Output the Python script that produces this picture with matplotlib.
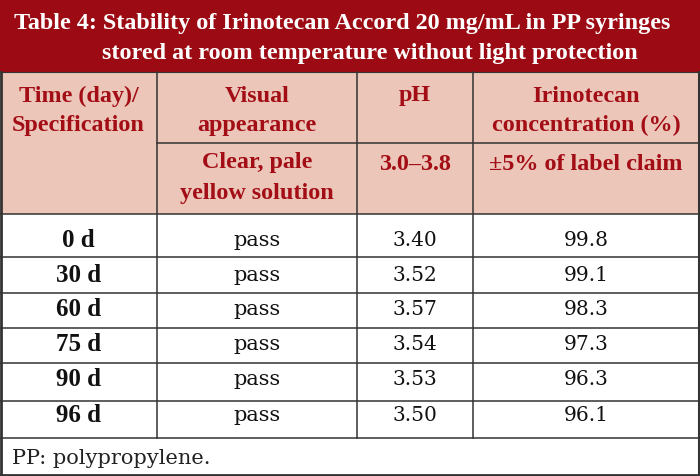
import matplotlib.pyplot as plt
from matplotlib.patches import Rectangle

plt.rcParams['font.family'] = ['Liberation Serif', 'DejaVu Serif']

# table content
title1 = "Table 4: Stability of Irinotecan Accord 20 mg/mL in PP syringes"
title2 = "stored at room temperature without light protection"
head1 = [["Time (day)/", "Specification"], ["Visual", "appearance"], ["pH"],
         ["Irinotecan", "concentration (%)"]]
head2 = [["Clear, pale", "yellow solution"], ["3.0\u20133.8"], ["\u00b15% of label claim"]]
days = ["0 d", "30 d", "60 d", "75 d", "90 d", "96 d"]
visual = ["pass", "pass", "pass", "pass", "pass", "pass"]
ph = ["3.40", "3.52", "3.57", "3.54", "3.53", "3.50"]
conc = ["99.8", "99.1", "98.3", "97.3", "96.3", "96.1"]
footnote = "PP: polypropylene."

red = '#9c0b13'
pink = '#ecc6b8'
hred = '#a30d16'
line = '#333333'
body_font = ['DejaVu Serif']

col_x = [0, 157, 357, 473, 699]
row_y = [215, 258, 294, 329, 364, 402, 439]
text_y = [241, 276, 310, 345, 380, 416]

fig = plt.figure(figsize=(7, 4.77), dpi=100)
ax = fig.add_axes([0, 0, 1, 1])
ax.set_xlim(0, 700)
ax.set_ylim(477, 0)
ax.axis('off')

# background blocks
ax.add_patch(Rectangle((0, 0), 700, 73, color=red, lw=0))
ax.add_patch(Rectangle((0, 73), 700, 142, color=pink, lw=0))

ax.text(14, 23, title1, color='white', fontsize=17.4, fontweight='bold', va='center', ha='left')
ax.text(102, 53, title2, color='white', fontsize=17.4, fontweight='bold', va='center', ha='left')

# header texts
centers = [(col_x[i] + col_x[i + 1]) / 2 for i in range(4)]
for i, lines in enumerate(head1):
    for j, t in enumerate(lines):
        ax.text(centers[i], 96 + j * 29, t, color=hred, fontsize=17.4, fontweight='bold',
                ha='center', va='center')
for i, lines in enumerate(head2):
    if len(lines) == 2:
        ys = [163, 194]
    else:
        ys = [165]
    for j, t in enumerate(lines):
        ax.text(centers[i + 1], ys[j], t, color=hred, fontsize=17.4, fontweight='bold',
                ha='center', va='center')

# body
for k in range(len(days)):
    y = text_y[k]
    ax.text(centers[0], y, days[k], fontsize=18, fontweight='bold', ha='center', va='center', color='#111111')
    ax.text(centers[1], y, visual[k], fontsize=15, family=body_font, ha='center', va='center', color='#111111')
    ax.text(centers[2], y, ph[k], fontsize=14.5, family=body_font, ha='center', va='center', color='#111111')
    ax.text(centers[3], y, conc[k], fontsize=14.5, family=body_font, ha='center', va='center', color='#111111')

ax.text(12, 459, footnote, fontsize=15, family=body_font, ha='left', va='center', color='#222222')

# grid lines
ax.plot([col_x[1], 700], [144, 144], color=line, lw=1.1)
for y in row_y:
    ax.plot([0, 700], [y, y], color=line, lw=1.1)
for x in col_x[1:4]:
    ax.plot([x, x], [73, row_y[-1]], color=line, lw=1.1)
ax.plot([1, 1], [73, 476], color=line, lw=2)
ax.plot([698.5, 698.5], [73, 476], color=line, lw=2.2)
ax.plot([0, 700], [476, 476], color=line, lw=2)
ax.plot([0, 700], [73, 73], color=line, lw=0.8)

fig.savefig('out.png', dpi=100)
